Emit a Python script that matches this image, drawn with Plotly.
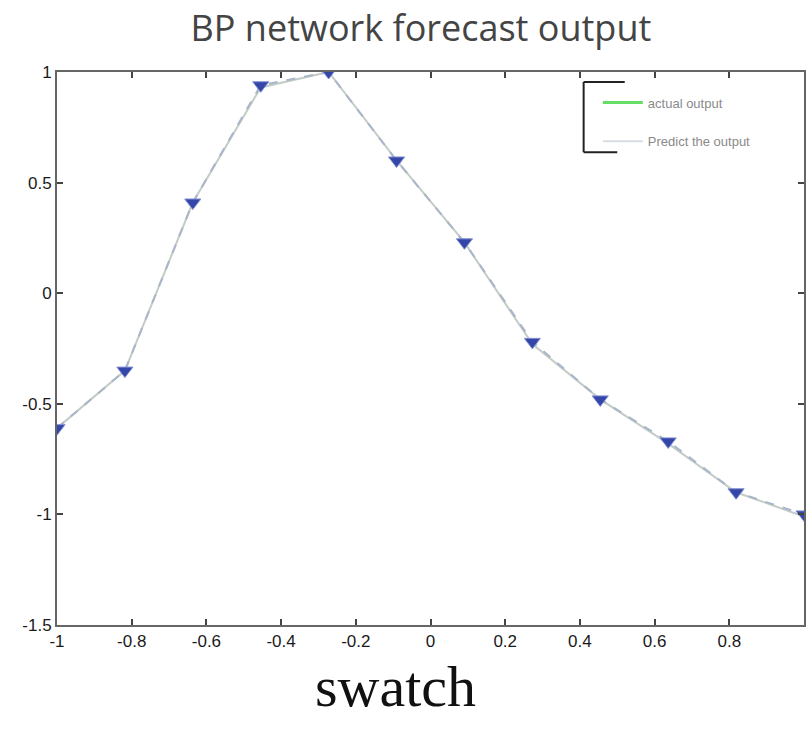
import plotly.graph_objects as go

x_vals = [-1.0, -0.8182, -0.6364, -0.4545, -0.2727, -0.0909, 0.0909, 0.2727, 0.4545, 0.6364, 0.8182, 1.0]
actual_output = [-0.61, -0.35, 0.41, 0.93, 1.00, 0.60, 0.23, -0.23, -0.48, -0.68, -0.90, -1.01]
predict_output = [-0.61, -0.35, 0.41, 0.94, 1.00, 0.60, 0.23, -0.22, -0.48, -0.67, -0.90, -1.00]
x_ticks = [-1, -0.8, -0.6, -0.4, -0.2, 0, 0.2, 0.4, 0.6, 0.8, 1]
y_ticks = [-1.5, -1, -0.5, 0, 0.5, 1]

fig = go.Figure()
fig.add_trace(go.Scatter(x=x_vals, y=actual_output, mode="lines",
                         line=dict(color="#c3ccc6", width=2), showlegend=False))
fig.add_trace(go.Scatter(x=x_vals, y=predict_output, mode="lines+markers",
                         line=dict(color="#a9b6c9", width=2, dash="dash"),
                         marker=dict(symbol="triangle-down", size=14, color="#3446a8",
                                     line=dict(color="#7f8fd0", width=1)),
                         showlegend=False))
# legend entries
fig.add_trace(go.Scatter(x=[None], y=[None], mode="lines", name="actual output",
                         line=dict(color="#66dd66", width=3), legendgroup="a"))
fig.add_trace(go.Scatter(x=[None], y=[None], mode="lines", name="Predict the output",
                         line=dict(color="#d8dde4", width=2), legendgroup="b"))

axis_common = dict(showgrid=False, zeroline=False, showline=True, linecolor="#666666", linewidth=2,
                   mirror="ticks", ticks="inside", ticklen=6, tickcolor="#444444", tickwidth=2,
                   tickfont=dict(family="Liberation Sans", size=17, color="#1a1a1a"))

fig.update_layout(
    width=808, height=735,
    margin=dict(l=57, r=2, t=72, b=110),
    paper_bgcolor="white", plot_bgcolor="white",
    title=dict(text="BP network forecast output", x=0.521, xanchor="center", y=0.962, yanchor="middle",
               font=dict(family="Open Sans", size=36, color="#444444")),
    font=dict(family="Liberation Sans", size=14, color="#333333"),
    legend=dict(x=0.724, y=0.972, xanchor="left", yanchor="top", bgcolor="rgba(0,0,0,0)",
                font=dict(size=13, color="#8a8a8a"), tracegroupgap=19, itemwidth=40,
                traceorder="grouped"),
    xaxis=dict(range=[-1, 1], tickvals=x_ticks, ticktext=[f"{v:g}" for v in x_ticks], **axis_common),
    yaxis=dict(range=[-1.5, 1], tickvals=y_ticks, ticktext=[f"{v:g}" for v in y_ticks], **axis_common),
    shapes=[
        dict(type="line", xref="paper", yref="paper", x0=0.705, x1=0.705, y0=0.855, y1=0.982,
             line=dict(color="#222222", width=2)),
        dict(type="line", xref="paper", yref="paper", x0=0.705, x1=0.760, y0=0.982, y1=0.982,
             line=dict(color="#222222", width=2)),
        dict(type="line", xref="paper", yref="paper", x0=0.705, x1=0.750, y0=0.855, y1=0.855,
             line=dict(color="#222222", width=2)),
    ],
    annotations=[
        dict(text="swatch", xref="paper", yref="paper", x=0.453, y=-0.112, xanchor="center",
             yanchor="middle", showarrow=False,
             font=dict(family="Liberation Serif", size=58, color="#111111")),
    ],
)

fig.write_html("out.html")
